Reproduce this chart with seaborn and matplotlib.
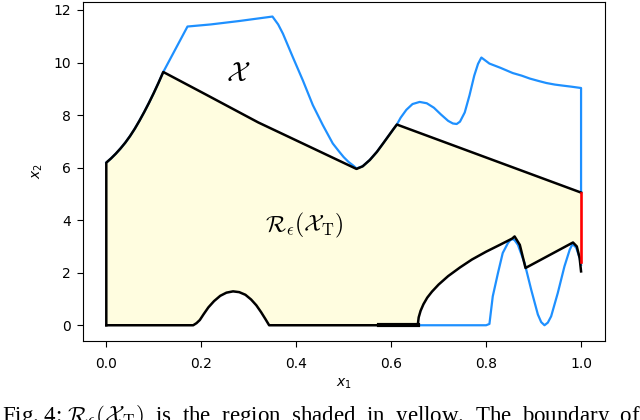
import matplotlib
matplotlib.use("Agg")
import matplotlib.pyplot as plt
import seaborn as sns

# ---------------- data ----------------
# blue boundary of X (upper part, incl. left shoulder)
blue_up_x = [0.0, 0.01, 0.02, 0.03, 0.04, 0.05, 0.06, 0.07, 0.08, 0.09, 0.10, 0.11, 0.12,
             0.171, 0.22, 0.28, 0.35,
             0.362, 0.372, 0.393, 0.414, 0.435, 0.456, 0.477, 0.49, 0.50, 0.51, 0.52, 0.527,
             0.54, 0.555, 0.57, 0.583, 0.595, 0.605, 0.612, 0.62, 0.632, 0.645, 0.66,
             0.675, 0.69, 0.705, 0.72, 0.73, 0.738, 0.745, 0.755, 0.765, 0.775, 0.783, 0.79,
             0.807, 0.83, 0.856, 0.875, 0.892, 0.91, 0.927, 0.945, 0.962, 0.98, 1.0, 1.0]
blue_up_y = [6.19, 6.35, 6.53, 6.73, 6.95, 7.20, 7.48, 7.79, 8.12, 8.47, 8.84, 9.23, 9.64,
             11.37, 11.45, 11.58, 11.75,
             11.45, 11.10, 10.20, 9.32, 8.38, 7.62, 6.92, 6.62, 6.40, 6.22, 6.08, 5.97,
             6.05, 6.29, 6.60, 6.92, 7.22, 7.47, 7.64, 7.90, 8.20, 8.42, 8.50,
             8.45, 8.28, 8.02, 7.78, 7.68, 7.66, 7.75, 8.10, 8.75, 9.50, 9.95, 10.19,
             9.96, 9.80, 9.60, 9.50, 9.39, 9.30, 9.22, 9.16, 9.12, 9.08, 9.03, 5.05]
# blue boundary of X (lower part)
blue_lo_x = [0.575, 0.80, 0.807, 0.814, 0.825, 0.835, 0.846, 0.851, 0.855, 0.86, 0.867,
             0.881, 0.895, 0.909, 0.916, 0.923, 0.93, 0.937, 0.951, 0.965, 0.976, 0.981,
             0.986, 0.99, 0.997, 1.0]
blue_lo_y = [0.0, 0.0, 0.05, 1.10, 1.99, 2.75, 3.13, 3.24, 3.28, 3.24, 3.06,
             2.37, 1.35, 0.41, 0.12, 0.0, 0.10, 0.34, 1.23, 2.24, 2.87, 3.06,
             3.03, 2.94, 2.56, 2.30]

# black upper boundary of R_eps(X_T)
blk_up_x = [0.0, 0.0, 0.01, 0.02, 0.03, 0.04, 0.05, 0.06, 0.07, 0.08, 0.09, 0.10, 0.11, 0.12,
            0.21, 0.32, 0.43, 0.527,
            0.54, 0.555, 0.57, 0.583, 0.595, 0.605, 0.612, 1.0]
blk_up_y = [0.0, 6.19, 6.35, 6.53, 6.73, 6.95, 7.20, 7.48, 7.79, 8.12, 8.47, 8.84, 9.23, 9.64,
            8.78, 7.72, 6.78, 5.95,
            6.05, 6.29, 6.60, 6.92, 7.22, 7.47, 7.64, 5.05]
# black lower boundary of R_eps(X_T)
blk_lo_x = [0.0, 0.183, 0.19, 0.197, 0.205, 0.215, 0.227, 0.24, 0.253, 0.267, 0.28,
            0.293, 0.305, 0.316, 0.326, 0.335, 0.343,
            0.575, 0.656, 0.658, 0.662, 0.668, 0.676, 0.686, 0.70, 0.72, 0.745, 0.77,
            0.80, 0.83, 0.855, 0.86, 0.871, 0.883, 0.983, 0.991, 0.997, 1.0]
blk_lo_y = [0.0, 0.0, 0.08, 0.20, 0.42, 0.68, 0.92, 1.12, 1.24, 1.29, 1.26,
            1.16, 0.98, 0.76, 0.50, 0.24, 0.0,
            0.0, 0.0, 0.30, 0.55, 0.80, 1.05, 1.28, 1.55, 1.87, 2.20, 2.50,
            2.80, 3.07, 3.30, 3.38, 3.06, 2.18, 3.15, 3.00, 2.56, 2.05]
# red part of the boundary (x = 1)
red_x = [1.0, 1.0]
red_y = [5.05, 2.39]
# thicker black piece on the floor
thick_x = [0.575, 0.656]
thick_y = [0.0, 0.0]

label_X = r"$\mathcal{X}$"
label_R = r"$\mathcal{R}_\epsilon(\mathcal{X}_\mathrm{T})$"
caption = (r"Fig. 4: $\mathcal{R}_\epsilon(\mathcal{X}_\mathrm{T})$  is  the  region  shaded  "
           r"in  yellow.  The  boundary  of")

# ---------------- figure ----------------
fig = plt.figure(figsize=(6.4, 4.2), dpi=100)
ax = fig.add_axes([0.129, 0.189, 0.816, 0.806])

poly_x = blk_up_x + blk_lo_x[::-1]
poly_y = blk_up_y + blk_lo_y[::-1]
ax.fill(poly_x, poly_y, color="#FFFDE0", lw=0, zorder=1)

sns.lineplot(x=blue_up_x, y=blue_up_y, sort=False, estimator=None,
             color="#1E90FF", lw=1.6, ax=ax, zorder=2)
sns.lineplot(x=blue_lo_x, y=blue_lo_y, sort=False, estimator=None,
             color="#1E90FF", lw=1.6, ax=ax, zorder=2)
sns.lineplot(x=blk_up_x, y=blk_up_y, sort=False, estimator=None,
             color="black", lw=1.8, ax=ax, zorder=3)
sns.lineplot(x=blk_lo_x, y=blk_lo_y, sort=False, estimator=None,
             color="black", lw=1.8, ax=ax, zorder=3)
sns.lineplot(x=thick_x, y=thick_y, sort=False, estimator=None,
             color="black", lw=3.0, ax=ax, zorder=3)
sns.lineplot(x=red_x, y=red_y, sort=False, estimator=None,
             color="red", lw=1.9, ax=ax, zorder=4)

ax.text(0.277, 9.6, label_X, fontsize=20, ha="center", va="center",
        math_fontfamily="cm")
ax.text(0.418, 3.80, label_R, fontsize=17, ha="center", va="center",
        math_fontfamily="cm")

ax.set_xlim(-0.05, 1.05)
ax.set_ylim(-0.585, 12.3)
ax.set_xticks([0.0, 0.2, 0.4, 0.6, 0.8, 1.0])
ax.set_yticks([0, 2, 4, 6, 8, 10, 12])
ax.tick_params(length=4.3, labelsize=10)
ax.tick_params(axis="x", pad=7.5)
ax.tick_params(axis="y", pad=4.0)
ax.set_xlabel(r"$x_1$", labelpad=4)
ax.set_ylabel(r"$x_2$", labelpad=6)

fig.text(0.003, 1 - 403 / 420, caption, fontsize=16.5, ha="left", va="top",
         family="Liberation Serif", math_fontfamily="cm")

fig.savefig("out.png", dpi=100)
